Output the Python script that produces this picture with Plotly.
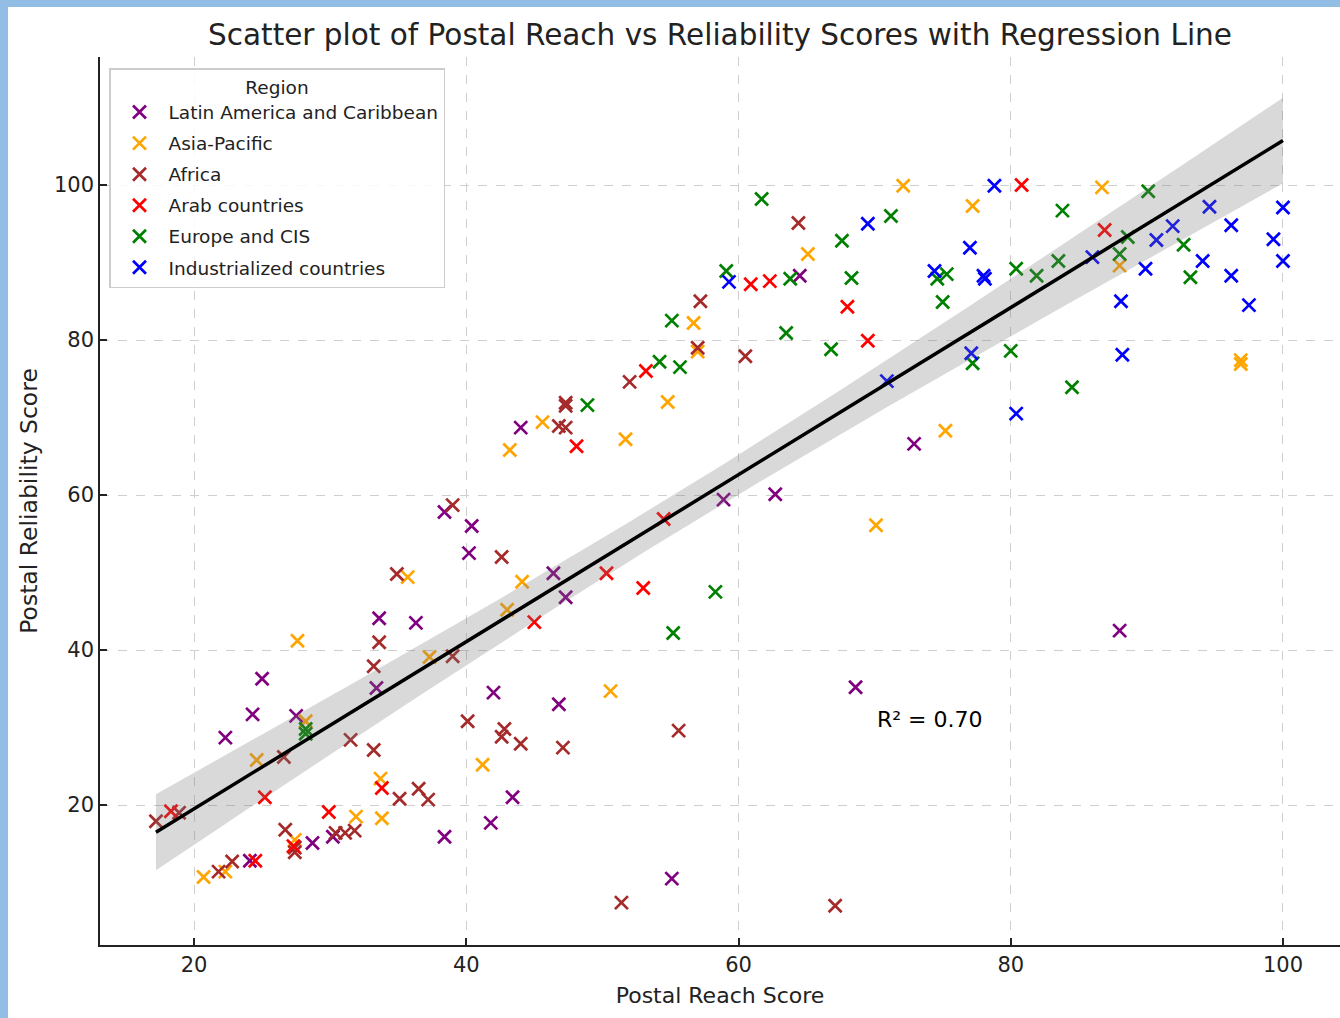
import numpy as np
import plotly.graph_objects as go

regions = ["Latin America and Caribbean", "Asia-Pacific", "Africa",
           "Arab countries", "Europe and CIS", "Industrialized countries"]
colors = ["#800080", "#FFA500", "#A52A2A", "#FF0000", "#008000", "#0000FF"]

latam_x = [22.3, 24.3, 25.0, 27.5, 33.4, 28.7, 30.2, 24.1, 38.4, 33.6, 36.3, 38.4, 40.4, 40.2,
           44.0, 46.4, 47.3, 42.0, 46.8, 43.4, 41.8, 55.1, 58.9, 62.7, 72.9, 68.6, 88.0, 64.5]
latam_y = [28.7, 31.7, 36.3, 31.5, 35.1, 15.1, 15.9, 12.8, 15.9, 44.1, 43.5, 57.8, 56.0, 52.5,
           68.7, 49.9, 46.8, 34.5, 33.0, 21.0, 17.7, 10.5, 59.4, 60.1, 66.6, 35.2, 42.5, 88.3]

asia_x = [27.6, 28.2, 24.6, 33.7, 31.9, 33.8, 27.4, 22.3, 20.7, 35.7, 37.3, 44.1, 43.0, 41.2, 50.6,
          43.2, 45.6, 51.7, 54.8, 56.7, 57.0, 65.1, 70.1, 75.2, 72.1, 77.2, 86.7, 88.0, 96.9, 96.9]
asia_y = [41.2, 30.8, 25.8, 23.4, 18.5, 18.3, 15.5, 11.4, 10.7, 49.4, 39.1, 48.8, 45.2, 25.2, 34.7,
          65.8, 69.4, 67.2, 72.0, 82.2, 78.5, 91.1, 56.1, 68.3, 99.9, 97.3, 99.7, 89.6, 77.4, 76.9]

africa_x = [17.2, 18.9, 26.6, 31.5, 33.2, 35.1, 36.5, 37.2, 26.7, 30.4, 31.1, 31.8, 27.4, 27.4,
            22.8, 21.8, 33.6, 33.2, 39.0, 39.0, 34.9, 42.6, 40.1, 42.8, 42.6, 44.0, 47.1, 55.6,
            51.4, 67.1, 47.3, 47.3, 46.8, 47.3, 52.0, 57.0, 57.2, 60.5, 64.4]
africa_y = [17.9, 19.0, 26.2, 28.4, 27.1, 20.8, 22.1, 20.7, 16.8, 16.4, 16.4, 16.7, 14.5, 13.9,
            12.7, 11.4, 41.0, 37.9, 58.7, 39.2, 49.8, 52.0, 30.8, 29.8, 28.8, 27.9, 27.4, 29.6,
            7.4, 7.0, 71.9, 71.5, 68.9, 68.7, 74.6, 79.0, 85.0, 77.9, 95.1]

arab_x = [18.3, 25.2, 33.8, 29.9, 27.3, 24.5, 45.0, 53.0, 50.3, 54.5, 48.1, 53.2, 60.9, 62.3,
          68.0, 69.5, 80.8, 86.9]
arab_y = [19.2, 21.0, 22.2, 19.1, 14.7, 12.8, 43.6, 48.0, 49.9, 56.9, 66.3, 76.0, 87.2, 87.6,
          84.3, 79.9, 100.0, 94.2]

europe_x = [28.2, 28.2, 48.9, 54.2, 55.7, 55.1, 59.1, 61.7, 63.8, 63.5, 66.8, 67.6, 68.3, 58.3,
            55.2, 71.2, 74.6, 75.3, 75.0, 77.2, 80.0, 80.4, 81.9, 83.5, 83.8, 84.5, 88.0, 88.6,
            90.1, 92.7, 93.2]
europe_y = [29.8, 29.2, 71.6, 77.2, 76.5, 82.5, 88.9, 98.2, 87.9, 80.9, 78.8, 92.8, 88.0, 47.5,
            42.2, 96.0, 87.9, 88.5, 84.9, 77.0, 78.6, 89.2, 88.3, 90.2, 96.7, 73.9, 91.1, 93.3,
            99.2, 92.3, 88.1]

ind_x = [59.3, 69.5, 70.9, 78.8, 77.0, 74.4, 78.0, 78.1, 77.1, 80.4, 86.0, 88.1, 88.2, 89.9,
         90.7, 91.9, 94.1, 94.6, 96.2, 96.2, 97.5, 99.3, 100.0, 100.0]
ind_y = [87.5, 95.0, 74.7, 99.9, 91.9, 88.9, 88.3, 87.9, 78.3, 70.5, 90.7, 85.0, 78.1, 89.2,
         92.9, 94.7, 90.2, 97.2, 94.8, 88.3, 84.5, 93.0, 97.1, 90.2]

xs_list = [latam_x, asia_x, africa_x, arab_x, europe_x, ind_x]
ys_list = [latam_y, asia_y, africa_y, arab_y, europe_y, ind_y]

r2_label = "R² = 0.70"
x_ticks = [20, 40, 60, 80, 100]
y_ticks = [20, 40, 60, 80, 100]

fig = go.Figure()

for name, c, xs, ys in zip(regions, colors, xs_list, ys_list):
    fig.add_trace(go.Scatter(
        x=xs, y=ys, mode="markers", name=name, legendgroup=name,
        marker=dict(symbol="x-thin", size=13, color=c, line=dict(width=2.7, color=c)),
    ))

# regression with 95% confidence band
all_x = np.concatenate([np.array(v, float) for v in xs_list])
all_y = np.concatenate([np.array(v, float) for v in ys_list])
slope, intercept = np.polyfit(all_x, all_y, 1)
n = len(all_x)
resid = all_y - (slope * all_x + intercept)
s = np.sqrt(np.sum(resid ** 2) / (n - 2))
xbar = all_x.mean()
sxx = np.sum((all_x - xbar) ** 2)
grid = np.linspace(all_x.min(), all_x.max(), 100)
fit = slope * grid + intercept
se = s * np.sqrt(1.0 / n + (grid - xbar) ** 2 / sxx)
upper = fit + 1.97 * se
lower = fit - 1.97 * se

fig.add_trace(go.Scatter(
    x=np.concatenate([grid, grid[::-1]]), y=np.concatenate([upper, lower[::-1]]),
    fill="toself", fillcolor="rgba(120,120,120,0.28)", line=dict(width=0),
    mode="lines", showlegend=False, hoverinfo="skip"))
fig.add_trace(go.Scatter(x=grid, y=fit, mode="lines", line=dict(color="black", width=3.5),
                         showlegend=False))

fig.add_annotation(x=70.0, y=31.0, xref="x", yref="y", text=r2_label, showarrow=False,
                   xanchor="left", yanchor="middle",
                   font=dict(family="DejaVu Sans", size=22, color="black"))

# light blue frame strips
frame = "#92BEE6"
fig.add_shape(type="rect", xref="paper", yref="paper", x0=-100 / 1240, x1=-92 / 1240,
              y0=-73 / 888, y1=945 / 888, fillcolor=frame, line=dict(width=0), layer="above")
fig.add_shape(type="rect", xref="paper", yref="paper", x0=-100 / 1240, x1=1.0,
              y0=(945 - 7) / 888, y1=945 / 888, fillcolor=frame, line=dict(width=0), layer="above")

axis_common = dict(
    showgrid=True, gridcolor="#cfcfcf", griddash="dash", gridwidth=1,
    showline=True, linecolor="#222222", linewidth=1.5, mirror=False,
    ticks="inside", ticklen=7, tickcolor="#222222", tickwidth=1.5,
    zeroline=False, tickfont=dict(family="DejaVu Sans", size=21, color="#222222"),
)

fig.update_layout(
    width=1340, height=1018,
    margin=dict(l=100, r=0, t=57, b=73),
    paper_bgcolor="white", plot_bgcolor="white",
    font=dict(family="DejaVu Sans", color="#222222"),
    title=dict(text="Scatter plot of Postal Reach vs Reliability Scores with Regression Line",
               x=0.5, xref="paper", xanchor="center", y=1 - 35 / 1018, yref="container",
               yanchor="middle", font=dict(family="DejaVu Sans", size=29.5, color="#222222")),
    xaxis=dict(range=[13.09, 104.19], tickvals=x_ticks,
               title=dict(text="Postal Reach Score", font=dict(size=22), standoff=12),
               **axis_common),
    yaxis=dict(range=[1.935, 116.52], tickvals=y_ticks,
               title=dict(text="Postal Reliability Score", font=dict(size=23.5), standoff=10),
               **axis_common),
    legend=dict(
        title=dict(text="Region", side="top center", font=dict(size=18.5)),
        x=9 / 1240, y=1 - 11 / 888, xanchor="left", yanchor="top",
        bgcolor="rgba(255,255,255,0.85)", bordercolor="#cccccc", borderwidth=1.5,
        font=dict(family="DejaVu Sans", size=18.5, color="#222222"),
        tracegroupgap=4, itemwidth=48,
    ),
    showlegend=True,
)

fig.write_html("out.html")
